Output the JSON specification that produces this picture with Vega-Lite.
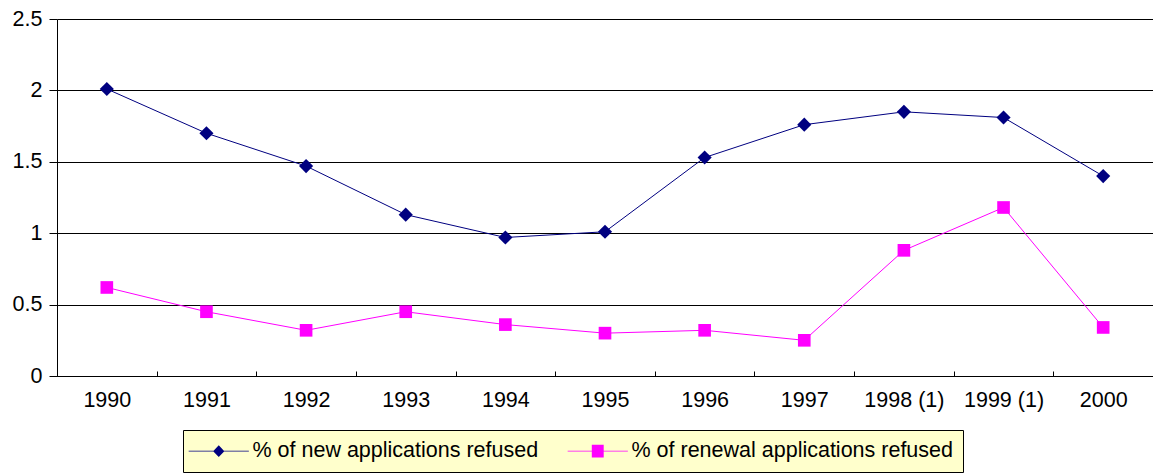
{
  "$schema": "https://vega.github.io/schema/vega-lite/v6.json",
  "width": 1096,
  "height": 357,
  "autosize": {"type": "none"},
  "padding": {"left": 57, "top": 19, "right": 0, "bottom": 99},
  "background": "white",
  "config": {
    "font": "Liberation Sans",
    "view": {"stroke": null},
    "axis": {"labelFont": "Liberation Sans", "labelFontSize": 21.5, "labelColor": "#000", "domainColor": "#000", "tickColor": "#000", "titleFontSize": 21}
  },
  "data": {
    "values": [
      {"year": "1990", "series": "% of new applications refused", "value": 2.01},
      {"year": "1991", "series": "% of new applications refused", "value": 1.70},
      {"year": "1992", "series": "% of new applications refused", "value": 1.47},
      {"year": "1993", "series": "% of new applications refused", "value": 1.13},
      {"year": "1994", "series": "% of new applications refused", "value": 0.97},
      {"year": "1995", "series": "% of new applications refused", "value": 1.01},
      {"year": "1996", "series": "% of new applications refused", "value": 1.53},
      {"year": "1997", "series": "% of new applications refused", "value": 1.76},
      {"year": "1998 (1)", "series": "% of new applications refused", "value": 1.85},
      {"year": "1999 (1)", "series": "% of new applications refused", "value": 1.81},
      {"year": "2000", "series": "% of new applications refused", "value": 1.40},
      {"year": "1990", "series": "% of renewal applications refused", "value": 0.62},
      {"year": "1991", "series": "% of renewal applications refused", "value": 0.45},
      {"year": "1992", "series": "% of renewal applications refused", "value": 0.32},
      {"year": "1993", "series": "% of renewal applications refused", "value": 0.45},
      {"year": "1994", "series": "% of renewal applications refused", "value": 0.36},
      {"year": "1995", "series": "% of renewal applications refused", "value": 0.30},
      {"year": "1996", "series": "% of renewal applications refused", "value": 0.32},
      {"year": "1997", "series": "% of renewal applications refused", "value": 0.25},
      {"year": "1998 (1)", "series": "% of renewal applications refused", "value": 0.88},
      {"year": "1999 (1)", "series": "% of renewal applications refused", "value": 1.18},
      {"year": "2000", "series": "% of renewal applications refused", "value": 0.34}
    ]
  },
  "encoding": {
    "x": {
      "field": "year", "type": "ordinal", "sort": null,
      "scale": {"type": "band", "paddingInner": 0, "paddingOuter": 0},
      "axis": {"title": null, "labelAngle": 0, "tickBand": "extent", "tickSize": -5, "labelPadding": 18, "domainWidth": 1, "grid": false}
    },
    "y": {
      "field": "value", "type": "quantitative",
      "scale": {"domain": [0, 2.5], "nice": false, "zero": true},
      "axis": {"title": null, "values": [0, 0.5, 1, 1.5, 2, 2.5], "format": ".1~f", "tickSize": 8, "labelPadding": 7, "grid": true, "gridColor": "#000", "gridOpacity": 1, "gridWidth": 1}
    },
    "color": {
      "field": "series", "type": "nominal",
      "scale": {"domain": ["% of new applications refused", "% of renewal applications refused"], "range": ["#000080", "#FF00FF"]},
      "legend": {
        "title": null, "orient": "none", "direction": "horizontal", "columns": 2,
        "legendX": 126, "legendY": 411,
        "fillColor": "#FFFFCC", "strokeColor": "#000", "padding": 10,
        "labelFont": "Liberation Sans", "labelFontSize": 21.5, "labelColor": "#000", "labelLimit": 0,
        "symbolSize": 196, "symbolOffset": 15, "labelOffset": 23, "columnPadding": 28,
        "symbolStrokeWidth": 0,
        "encode": {
          "symbols": {
            "update": {
              "shape": {"signal": "datum.value === '% of new applications refused' ? 'M-4.3,-0.07L4.3,-0.07L4.3,0.07L-4.3,0.07Z M0,-0.85L0.8,0L0,0.85L-0.8,0Z' : 'M-4.3,-0.07L4.3,-0.07L4.3,0.07L-4.3,0.07Z M-0.85,-0.9L0.85,-0.9L0.85,0.9L-0.85,0.9Z'"},
              "fill": {"signal": "datum.value === '% of new applications refused' ? '#000080' : '#FF00FF'"},
              "strokeWidth": {"value": 0},
              "opacity": {"value": 1},
              "fillOpacity": {"value": 1}
            }
          }
        }
      }
    }
  },
  "layer": [
    {"mark": {"type": "line", "strokeWidth": 1}},
    {
      "transform": [{"filter": "datum.series === '% of new applications refused'"}],
      "mark": {"type": "point", "filled": true, "opacity": 1, "size": 200, "shape": "diamond"}
    },
    {
      "transform": [{"filter": "datum.series === '% of renewal applications refused'"}],
      "mark": {"type": "point", "filled": true, "opacity": 1, "size": 160, "shape": "square"}
    }
  ]
}
